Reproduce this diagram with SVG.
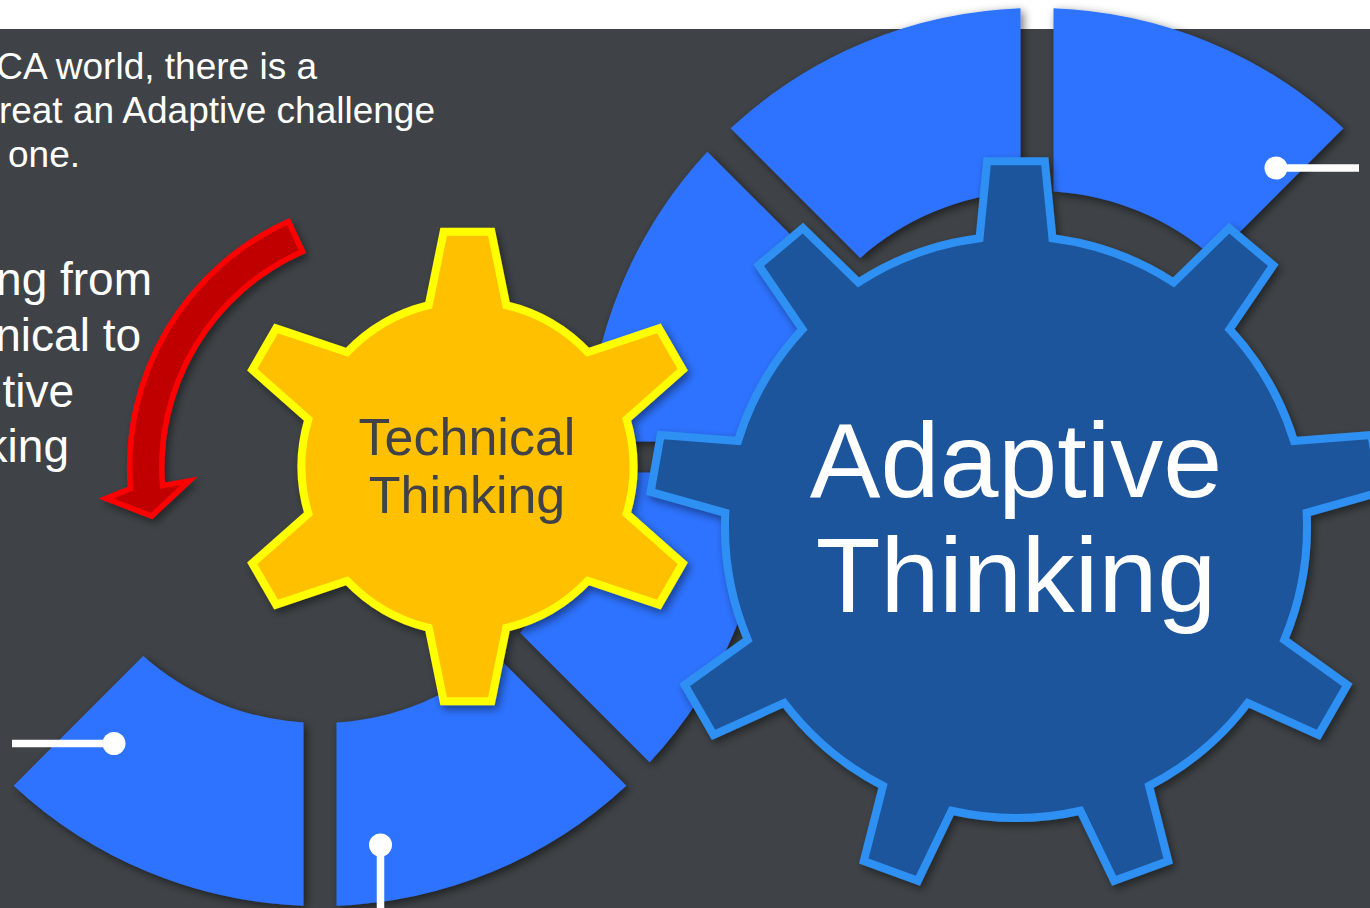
<svg xmlns="http://www.w3.org/2000/svg" width="1370" height="908" viewBox="0 0 1370 908">
  <defs>
    <style>
      .seg { fill: #2F73FF; }
      .txt { font-family: "Liberation Sans", Arial, Helvetica, sans-serif; }
      .white { fill: #FFFFFF; }
      .side { font-size: 37px; text-anchor: end; }
      .side2 { font-size: 46px; text-anchor: end; }
      .lead { stroke: #FFFFFF; stroke-width: 7.5; fill: none; }
      .dot { fill: #FFFFFF; }
    </style>
    <filter id="shadow" x="-20%" y="-20%" width="140%" height="140%">
      <feDropShadow dx="3" dy="3" stdDeviation="5" flood-color="#000000" flood-opacity="0.55"/>
    </filter>
    <filter id="shadowSoft" x="-20%" y="-20%" width="140%" height="140%">
      <feDropShadow dx="3" dy="4" stdDeviation="4" flood-color="#000000" flood-opacity="0.45"/>
    </filter>
  </defs>

  <!-- page -->
  <rect x="0" y="0" width="1370" height="908" fill="#FFFFFF"/>
  <rect x="0" y="29" width="1370" height="879" fill="#3F4347"/>

  <!-- side text -->
  <g id="intro-text" class="txt white">
    <text class="side" x="317" y="79">CA world, there is a</text>
    <text class="side" x="435" y="123">reat an Adaptive challenge</text>
    <text class="side" x="80" y="167">one.</text>
  </g>
  <g id="shift-text" class="txt white">
    <text class="side2" x="152" y="295">ng from</text>
    <text class="side2" x="141" y="351">nical to</text>
    <text class="side2" x="74" y="407">tive</text>
    <text class="side2" x="69" y="462">king</text>
  </g>

  <!-- upper ring segments (centre 1037,458) -->
  <g id="seg-left" filter="url(#shadow)">
    <path class="seg" d="M587.3,441.5 A450,450 0 0 1 707.34,151.68 L836.89,281.23 A267,267 0 0 0 770.51,441.5 Z"/>
  </g>
  <g id="seg-top-left" filter="url(#shadow)">
    <path class="seg" d="M730.68,128.34 A450,450 0 0 1 1020.5,8.3 L1020.5,191.51 A267,267 0 0 0 860.23,257.89 Z"/>
  </g>
  <g id="seg-top-right" filter="url(#shadow)">
    <path class="seg" d="M1053.5,8.3 A450,450 0 0 1 1343.32,128.34 L1213.77,257.89 A267,267 0 0 0 1053.5,191.51 Z"/>
  </g>

  <!-- lower ring segments (centre 320,456) -->
  <g id="seg-right-low" filter="url(#shadow)">
    <path class="seg" d="M769.7,472.5 A450,450 0 0 1 649.66,762.32 L520.11,632.77 A267,267 0 0 0 586.49,472.5 Z"/>
  </g>
  <g id="seg-bottom-right" filter="url(#shadow)">
    <path class="seg" d="M626.32,785.66 A450,450 0 0 1 336.5,905.7 L336.5,722.49 A267,267 0 0 0 496.77,656.11 Z"/>
  </g>
  <g id="seg-bottom-left" filter="url(#shadow)">
    <path class="seg" d="M303.5,905.7 A450,450 0 0 1 13.68,785.66 L143.23,656.11 A267,267 0 0 0 303.5,722.49 Z"/>
  </g>

  <!-- curved red arrow -->
  <g id="arrow" filter="url(#shadowSoft)">
    <path d="M288.5,221.5 A269,269 0 0 0 130.5,488.5 L106,498.5 L151.7,516 L189,481 L162.5,485.6 A236,236 0 0 1 302.5,251.5 Z"
          fill="#C00000" stroke="#FF0000" stroke-width="5.5" stroke-linejoin="miter"/>
  </g>

  <!-- small gear -->
  <g id="technical-gear" filter="url(#shadowSoft)">
    <path d="M428.75,305.09 L443.65,231.71 L491.35,231.71 L506.25,305.09
             A166,166 0 0 1 587.91,352.23 L658.91,328.45 L682.76,369.76 L626.66,419.35
             A166,166 0 0 1 626.66,513.65 L682.76,563.24 L658.91,604.55 L587.91,580.77
             A166,166 0 0 1 506.25,627.91 L491.35,701.29 L443.65,701.29 L428.75,627.91
             A166,166 0 0 1 347.09,580.77 L276.09,604.55 L252.24,563.24 L308.34,513.65
             A166,166 0 0 1 308.34,419.35 L252.24,369.76 L276.09,328.45 L347.09,352.23
             A166,166 0 0 1 428.75,305.09 Z"
          fill="#FFC000" stroke="#FFFF00" stroke-width="8" stroke-linejoin="miter"/>
    <text class="txt" x="467" y="455" font-size="52" text-anchor="middle" fill="#3F4347">Technical</text>
    <text class="txt" x="467" y="513" font-size="52" text-anchor="middle" fill="#3F4347">Thinking</text>
  </g>

  <!-- large gear -->
  <g id="adaptive-gear" filter="url(#shadowSoft)">
    <path d="M979.53,238.3 L987.21,161.13 L1044.79,161.13 L1052.47,238.3
             A291,291 0 0 1 1173.64,282.39 L1229.12,228.22 L1273.23,265.24 L1229.51,329.28
             A291,291 0 0 1 1293.99,440.95 L1371.31,435.11 L1381.31,491.82 L1306.65,512.78
             A291,291 0 0 1 1284.26,639.77 L1347.25,685 L1318.46,734.87 L1247.79,702.94
             A291,291 0 0 1 1149,785.83 L1168.19,860.96 L1114.08,880.65 L1080.47,810.77
             A291,291 0 0 1 951.53,810.77 L917.92,880.65 L863.81,860.96 L883,785.83
             A291,291 0 0 1 784.21,702.94 L713.54,734.87 L684.75,685 L747.74,639.77
             A291,291 0 0 1 725.35,512.78 L650.69,491.82 L660.69,435.11 L738.01,440.95
             A291,291 0 0 1 802.49,329.28 L758.77,265.24 L802.88,228.22 L858.36,282.39
             A291,291 0 0 1 979.53,238.3 Z"
          fill="#1A549C" stroke="#2F90F2" stroke-width="8" stroke-linejoin="miter"/>
    <text class="txt white" x="1016" y="497" font-size="106" text-anchor="middle">Adaptive</text>
    <text class="txt white" x="1016" y="612" font-size="106" text-anchor="middle">Thinking</text>
  </g>

  <!-- leader lines -->
  <g id="connectors">
    <line class="lead" x1="1276" y1="168" x2="1359" y2="168"/>
    <circle class="dot" cx="1276" cy="168" r="11.5"/>
    <line class="lead" x1="12" y1="743.5" x2="114" y2="743.5"/>
    <circle class="dot" cx="114" cy="743.5" r="11.5"/>
    <line class="lead" x1="380.5" y1="845" x2="380.5" y2="908"/>
    <circle class="dot" cx="380.5" cy="845" r="11.5"/>
  </g>
</svg>
